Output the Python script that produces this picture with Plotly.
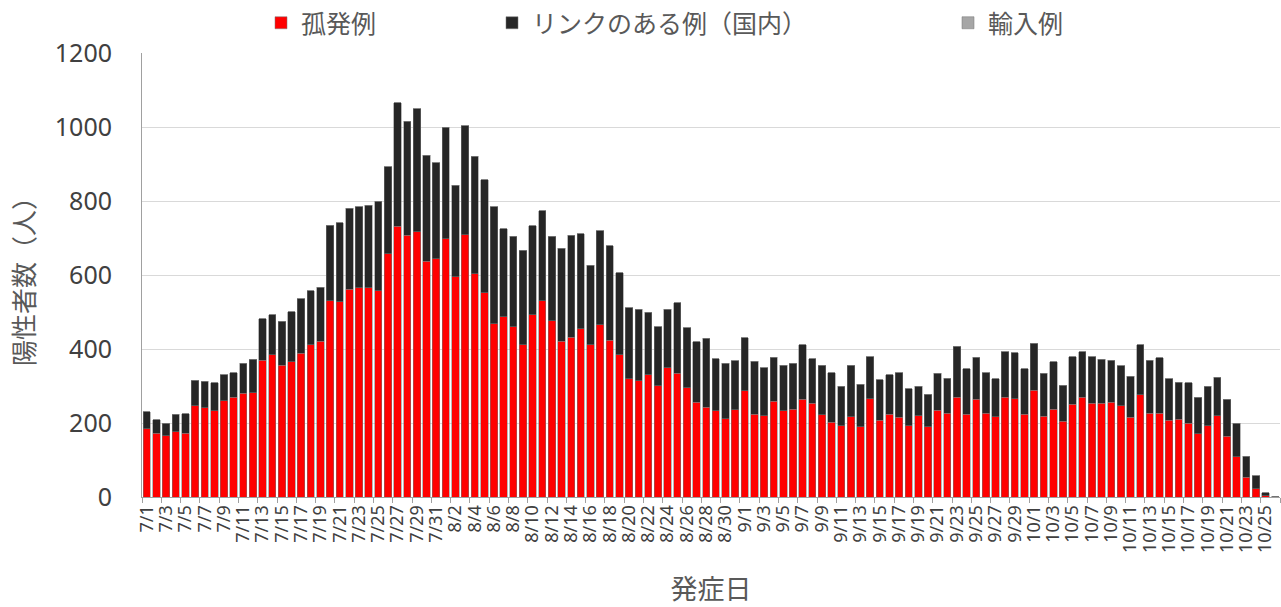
import plotly.graph_objects as go

dates = [
    "7/1","7/2","7/3","7/4","7/5","7/6","7/7","7/8","7/9","7/10","7/11","7/12","7/13","7/14","7/15","7/16",
    "7/17","7/18","7/19","7/20","7/21","7/22","7/23","7/24","7/25","7/26","7/27","7/28","7/29","7/30","7/31",
    "8/1","8/2","8/3","8/4","8/5","8/6","8/7","8/8","8/9","8/10","8/11","8/12","8/13","8/14","8/15","8/16",
    "8/17","8/18","8/19","8/20","8/21","8/22","8/23","8/24","8/25","8/26","8/27","8/28","8/29","8/30","8/31",
    "9/1","9/2","9/3","9/4","9/5","9/6","9/7","9/8","9/9","9/10","9/11","9/12","9/13","9/14","9/15","9/16",
    "9/17","9/18","9/19","9/20","9/21","9/22","9/23","9/24","9/25","9/26","9/27","9/28","9/29","9/30",
    "10/1","10/2","10/3","10/4","10/5","10/6","10/7","10/8","10/9","10/10","10/11","10/12","10/13","10/14",
    "10/15","10/16","10/17","10/18","10/19","10/20","10/21","10/22","10/23","10/24","10/25","10/26",
]

# 孤発例
sporadic = [
    184,172,166,177,172,247,241,233,260,270,281,282,370,384,356,365,
    388,411,421,531,528,562,565,565,557,658,732,708,717,637,644,
    698,595,709,604,552,468,487,460,412,493,531,476,421,432,455,412,
    465,423,384,320,314,331,301,349,335,295,256,242,233,212,236,
    287,224,219,259,233,237,264,254,222,202,192,217,190,266,207,224,
    215,193,219,190,234,227,269,224,264,226,217,270,266,224,
    289,218,237,205,251,269,253,253,256,247,216,277,227,227,
    207,210,199,171,193,220,164,109,53,22,4,1,
]

# リンクのある例（国内）
linked = [
    46,37,34,47,53,68,72,76,70,66,81,90,112,108,119,136,
    148,146,146,203,213,218,219,223,242,234,333,308,333,286,259,
    301,247,294,317,305,316,238,245,255,240,242,229,251,276,256,214,
    255,256,222,191,193,169,159,159,190,162,163,187,141,149,132,
    144,143,131,119,123,124,148,120,134,134,108,139,115,113,110,107,
    121,99,80,88,100,94,139,122,114,110,102,122,124,122,
    127,117,128,97,128,123,126,119,113,108,111,134,142,150,
    112,100,110,98,106,103,100,90,57,36,8,1,
]

# 輸入例
imported = [0] * len(dates)

y_ticks = [0, 200, 400, 600, 800, 1000, 1200]

x = list(range(len(dates)))
tick_idx = x[::2]
tick_txt = dates[::2]

W, H = 1281, 607
line = dict(color="rgba(120,120,120,0.75)", width=0.7)
font_fam = "Noto Sans, Noto Sans CJK JP"

fig = go.Figure()
fig.add_trace(go.Bar(x=x, y=sporadic, name="孤発例", marker=dict(color="#FF0000", line=line),
                     legend="legend"))
fig.add_trace(go.Bar(x=x, y=linked, name="リンクのある例（国内）", marker=dict(color="#262626", line=line),
                     legend="legend2"))
fig.add_trace(go.Bar(x=x, y=imported, name="輸入例", marker=dict(color="#A6A6A6", line=line),
                     legend="legend3"))

leg_common = dict(orientation="h", yref="container", xref="container",
                  yanchor="top", y=1, xanchor="left",
                  font=dict(family="Noto Sans CJK JP", size=25, color="#595959"),
                  bgcolor="rgba(0,0,0,0)", borderwidth=0)

fig.update_layout(
    barmode="stack",
    bargap=0.24,
    width=W, height=H,
    margin=dict(l=142, r=1, t=53, b=110, autoexpand=False),
    paper_bgcolor="white", plot_bgcolor="white",
    font=dict(family=font_fam, color="#404040"),
    showlegend=True,
    legend=dict(x=261 / W, **leg_common),
    legend2=dict(x=492 / W, **leg_common),
    legend3=dict(x=948 / W, **leg_common),
    xaxis=dict(
        range=[-0.5, len(dates) - 0.5],
        tickmode="array", tickvals=tick_idx, ticktext=tick_txt,
        tickangle=-90, ticks="",
        tickfont=dict(size=18, color="#404040"),
        showline=True, linecolor="#A0A0A0", linewidth=1,
        showgrid=False, zeroline=False, automargin=False,
        minor=dict(ticks="outside", tick0=-0.5, dtick=2, ticklen=5, tickcolor="#A0A0A0", showgrid=False),
        title=dict(text="発症日", font=dict(family="Noto Sans CJK JP", size=27, color="#595959"), standoff=32),
    ),
    yaxis=dict(
        range=[0, 1200],
        tickmode="array", tickvals=y_ticks,
        tickfont=dict(size=25, color="#404040"),
        ticks="", ticklabelstandoff=24,
        showline=True, linecolor="#A0A0A0", linewidth=1,
        showgrid=True, gridcolor="#D9D9D9", gridwidth=1,
        zeroline=False, automargin=False,
        title=dict(text="陽性者数（人）", font=dict(family="Noto Sans CJK JP", size=26, color="#595959"), standoff=12),
    ),
)

fig.write_html(
    "out.html",
    config={"displayModeBar": False},
    post_script="document.body.style.margin='0';document.body.style.overflow='hidden';",
)
